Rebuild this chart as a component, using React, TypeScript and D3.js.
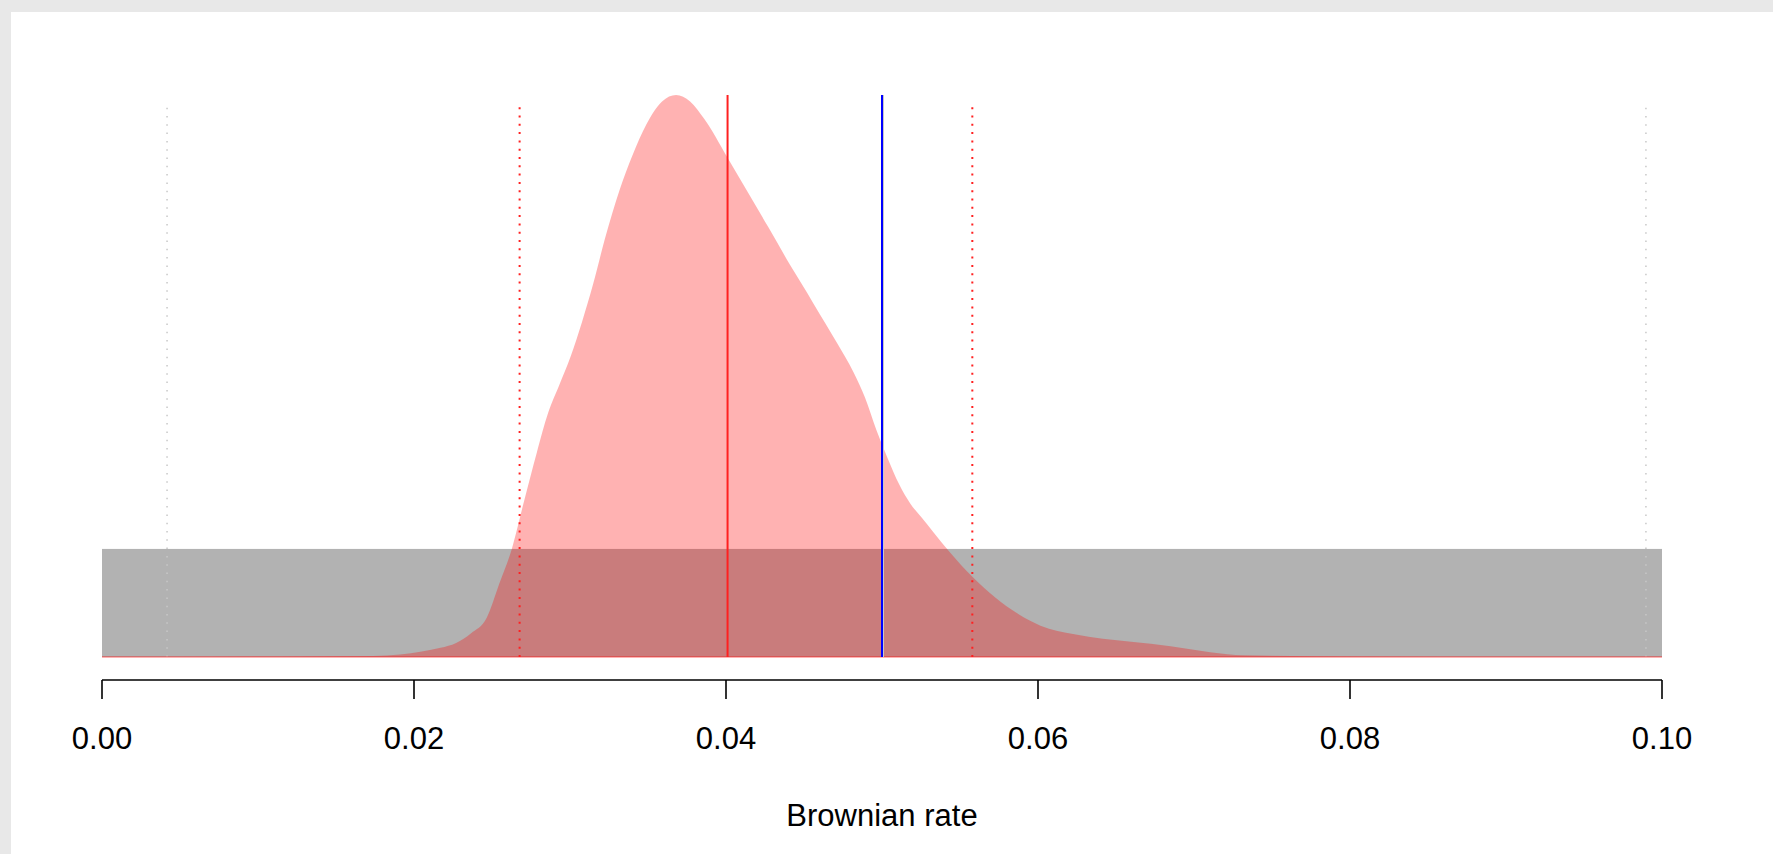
import React from "react";
import * as d3 from "d3";

// Posterior density of the Brownian rate
const rateGrid = [
  0.0, 0.01154, 0.0174, 0.0191, 0.0205, 0.0217, 0.0227, 0.02366, 0.02467, 0.02547,
  0.02627, 0.02707, 0.02787, 0.0286, 0.02932, 0.03004, 0.03077, 0.0315, 0.03222, 0.0332,
  0.034, 0.0349, 0.0359, 0.0368, 0.0377, 0.0386, 0.0401, 0.0414, 0.0427, 0.0441,
  0.0452, 0.04565, 0.0471, 0.04819, 0.04891, 0.04964, 0.05036, 0.05109, 0.05181, 0.05254,
  0.05327, 0.05435, 0.05581, 0.05726, 0.05871, 0.06016, 0.06234, 0.06597, 0.0685, 0.07104,
  0.07322, 0.08048, 0.1,
];
const posteriorDensity = [
  0.02, 0.05, 0.1, 0.22, 0.5, 0.85, 1.3, 2.2, 3.66, 6.8,
  10.0, 14.5, 18.9, 22.6, 25.2, 27.8, 31.0, 34.6, 38.6, 43.3,
  46.4, 49.3, 51.4, 52.0, 51.4, 49.8, 46.2, 43.0, 39.8, 36.3,
  33.7, 32.6, 29.1, 26.3, 24.0, 21.0, 18.4, 16.0, 14.2, 12.9,
  11.6, 9.7, 7.4, 5.5, 4.0, 2.9, 2.1, 1.4, 1.0, 0.45,
  0.16, 0.05, 0.02,
];

// Uniform prior on [0, 0.1]
const priorRange = [0, 0.1];
const priorDensity = 10;
const priorInterval = [0.00417, 0.09897];
const posteriorInterval = [0.02677, 0.05579];
const posteriorMean = 0.0401;
const trueValue = 0.05;
const intervalLineHeight = 51.3;

const xTicks = [0.0, 0.02, 0.04, 0.06, 0.08, 0.1];
const xTickLabels = ["0.00", "0.02", "0.04", "0.06", "0.08", "0.10"];
const xTitle = "Brownian rate";

const W = 1773;
const H = 854;
const FONT = "'Liberation Sans', Arial, Helvetica, sans-serif";

export default function App() {
  const x = d3.scaleLinear().domain([0, 0.1]).range([102, 1662]);
  const maxD = d3.max(posteriorDensity) as number;
  const y = d3.scaleLinear().domain([0, maxD]).range([657, 95]);

  const pts = rateGrid.map((r, i) => [r, posteriorDensity[i]] as [number, number]);
  const area = d3
    .area<[number, number]>()
    .x((d) => x(d[0]))
    .y0(y(0))
    .y1((d) => y(d[1]))
    .curve(d3.curveMonotoneX);

  const axisY = 680;

  return (
    <svg
      width={W}
      height={H}
      style={{ position: "fixed", left: 0, top: 0, display: "block" }}
    >
      <rect x={0} y={0} width={W} height={H} fill="#e8e8e8" />
      <rect x={11} y={12} width={W - 11} height={H - 12} fill="#ffffff" />

      {/* prior */}
      <rect
        x={x(priorRange[0])}
        y={y(priorDensity)}
        width={x(priorRange[1]) - x(priorRange[0])}
        height={y(0) - y(priorDensity)}
        fill="#b2b2b2"
      />
      {priorInterval.map((v, i) => (
        <line
          key={"pi" + i}
          x1={x(v)}
          x2={x(v)}
          y1={y(0)}
          y2={y(intervalLineHeight)}
          stroke="#c8c8c8"
          strokeWidth={1.5}
          strokeDasharray="1.5 6.8"
        />
      ))}

      {/* posterior */}
      <path d={area(pts) || ""} fill="rgba(255,0,0,0.3)" />
      <line
        x1={x(priorRange[0])}
        x2={x(priorRange[1])}
        y1={y(0)}
        y2={y(0)}
        stroke="rgba(255,0,0,0.3)"
        strokeWidth={2}
      />
      {posteriorInterval.map((v, i) => (
        <line
          key={"qi" + i}
          x1={x(v)}
          x2={x(v)}
          y1={y(0)}
          y2={y(intervalLineHeight)}
          stroke="#ff2020"
          strokeWidth={2}
          strokeDasharray="2 6.3"
        />
      ))}
      <line
        x1={x(posteriorMean)}
        x2={x(posteriorMean)}
        y1={y(0)}
        y2={y(maxD)}
        stroke="#ff2020"
        strokeWidth={2}
      />
      <line
        x1={x(trueValue) + 1}
        x2={x(trueValue) + 1}
        y1={y(0)}
        y2={y(maxD)}
        stroke="#c8c8c8"
        strokeWidth={2}
      />
      <line
        x1={x(trueValue)}
        x2={x(trueValue)}
        y1={y(0)}
        y2={y(maxD)}
        stroke="#0000ff"
        strokeWidth={2}
      />

      {/* x axis */}
      <line x1={x(0)} x2={x(0.1)} y1={axisY} y2={axisY} stroke="#000" strokeWidth={1.6} />
      {xTicks.map((t, i) => (
        <g key={"t" + i}>
          <line x1={x(t)} x2={x(t)} y1={axisY} y2={axisY + 19} stroke="#000" strokeWidth={1.6} />
          <text
            x={x(t)}
            y={749}
            textAnchor="middle"
            fontFamily={FONT}
            fontSize={31}
            fill="#000"
          >
            {xTickLabels[i]}
          </text>
        </g>
      ))}
      <text
        x={(x(0) + x(0.1)) / 2}
        y={826}
        textAnchor="middle"
        fontFamily={FONT}
        fontSize={31}
        fill="#000"
      >
        {xTitle}
      </text>
    </svg>
  );
}
